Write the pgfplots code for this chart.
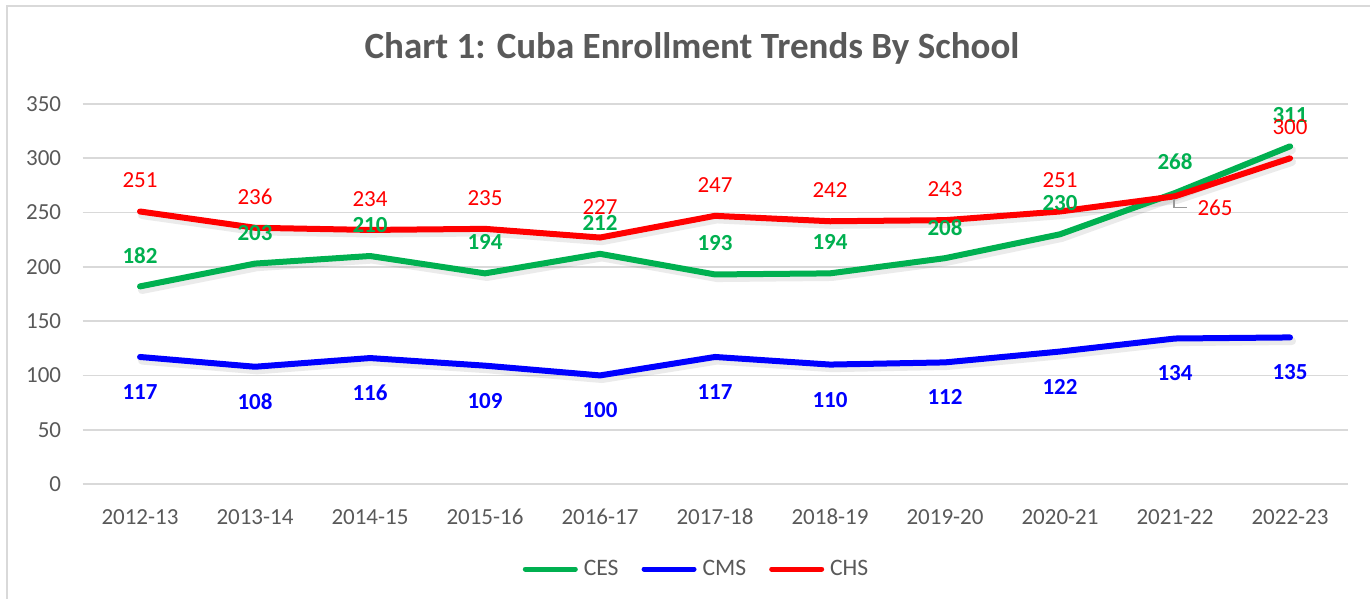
\documentclass[border=0pt]{standalone}
\usepackage{pgfplots}
\usepackage{pgfplotstable}
\pgfplotsset{compat=1.18}
\usepackage{fontspec}
\setmainfont{Carlito}
\definecolor{cgreen}{HTML}{00B050}
\definecolor{cblue}{HTML}{0000FF}
\definecolor{cred}{HTML}{FF0000}
\definecolor{txtgray}{HTML}{595959}
\definecolor{gridgray}{HTML}{D9D9D9}

\pgfplotstableread{
x y lab
0 182 182
1 203 203
2 210 210
3 194 194
4 212 212
5 193 193
6 194 194
7 208 208
8 230 230
9 268 268
10 311 311
}\cesdata
\pgfplotstableread{
x y lab
0 117 117
1 108 108
2 116 116
3 109 109
4 100 100
5 117 117
6 110 110
7 112 112
8 122 122
9 134 134
10 135 135
}\cmsdata
\pgfplotstableread{
x y lab dx dy
0 251 251 0 15.5
1 236 236 0 15.5
2 234 234 0 15.5
3 235 235 0 15.5
4 227 227 0 15.5
5 247 247 0 15.5
6 242 242 0 15.5
7 243 243 0 15.5
8 251 251 0 15.5
9 265 265 20 -6
10 300 300 0 15.5
}\chsdata

\begin{document}
\begin{tikzpicture}
\useasboundingbox (0,0) rectangle (685pt,299.5pt);
\draw[color=gridgray, line width=0.8pt] (3.5pt,0) -- (3.5pt,296.5pt) -- (685pt,296.5pt);
\node[font=\fontsize{18.5}{22}\selectfont\bfseries, text=txtgray] at (346pt,275.5pt) {Chart 1: Cuba Enrollment Trends By School};
\begin{axis}[
  at={(41.25pt,57.5pt)}, anchor=south west,
  scale only axis, width=632.5pt, height=190pt,
  xmin=-0.5, xmax=10.5, ymin=0, ymax=350,
  xtick={0,...,10},
  xticklabels={2012-13,2013-14,2014-15,2015-16,2016-17,2017-18,2018-19,2019-20,2020-21,2021-22,2022-23},
  ytick={0,50,...,350},
  axis line style={draw=none},
  major tick length=0pt,
  ymajorgrids,
  major grid style={color=gridgray, line width=0.8pt},
  /pgf/number format/assume math mode=true,
  tick label style={font=\fontsize{11.5}{13}\selectfont, text=txtgray},
  yticklabel style={anchor=east, inner sep=0pt, xshift=-10.5pt},
  xticklabel style={anchor=center, inner sep=0pt, yshift=-16.5pt},
  clip=false,
  legend columns=-1,
  legend style={draw=none, fill=none, at={(0.487,-0.2237)}, anchor=center,
    font=\fontsize{11.8}{13}\selectfont, text=txtgray,
    /tikz/every odd column/.append style={column sep=0pt},
    /tikz/every even column/.append style={column sep=8.5pt},
    nodes={inner xsep=3pt}},
  legend image code/.code={\draw[#1, line width=2.5pt, line cap=round] (0pt,0pt) -- (25pt,0pt);},
  every axis plot/.append style={line width=3pt, line join=round, line cap=round},
]
% shadows
\addplot[forget plot, black, opacity=0.08, line width=4pt, xshift=1pt, yshift=-1.8pt] table[x=x,y=y] {\cesdata};
\addplot[forget plot, black, opacity=0.08, line width=4pt, xshift=1pt, yshift=-1.8pt] table[x=x,y=y] {\cmsdata};
\addplot[forget plot, black, opacity=0.08, line width=4pt, xshift=1pt, yshift=-1.8pt] table[x=x,y=y] {\chsdata};

\addplot[cgreen, mark=none,
  point meta=explicit symbolic, nodes near coords,
  every node near coord/.append style={anchor=center, inner sep=0pt, yshift=15.5pt,
    font=\fontsize{11.5}{13}\selectfont\bfseries, text=cgreen}]
  table[x=x,y=y,meta=lab] {\cesdata};
\addlegendentry{CES}
\addplot[cblue, mark=none,
  point meta=explicit symbolic, nodes near coords,
  every node near coord/.append style={anchor=center, inner sep=0pt, yshift=-17.5pt,
    font=\fontsize{11.5}{13}\selectfont\bfseries, text=cblue}]
  table[x=x,y=y,meta=lab] {\cmsdata};
\addlegendentry{CMS}
\addplot[cred, mark=none,
  point meta=explicit symbolic, nodes near coords,
  visualization depends on={\thisrow{dx} \as \dx},
  visualization depends on={\thisrow{dy} \as \dy},
  every node near coord/.append style={anchor=center, inner sep=0pt, xshift=\dx pt, yshift=\dy pt,
    font=\fontsize{11.5}{13}\selectfont, text=cred}]
  table[x=x,y=y,meta=lab] {\chsdata};
\addlegendentry{CHS}
\draw[color=black!40, line width=0.6pt] (axis cs:9,265) ++(-0.5pt,-1.5pt) -- ++(0pt,-4pt) -- ++(6.5pt,0pt);
\end{axis}
\end{tikzpicture}
\end{document}
